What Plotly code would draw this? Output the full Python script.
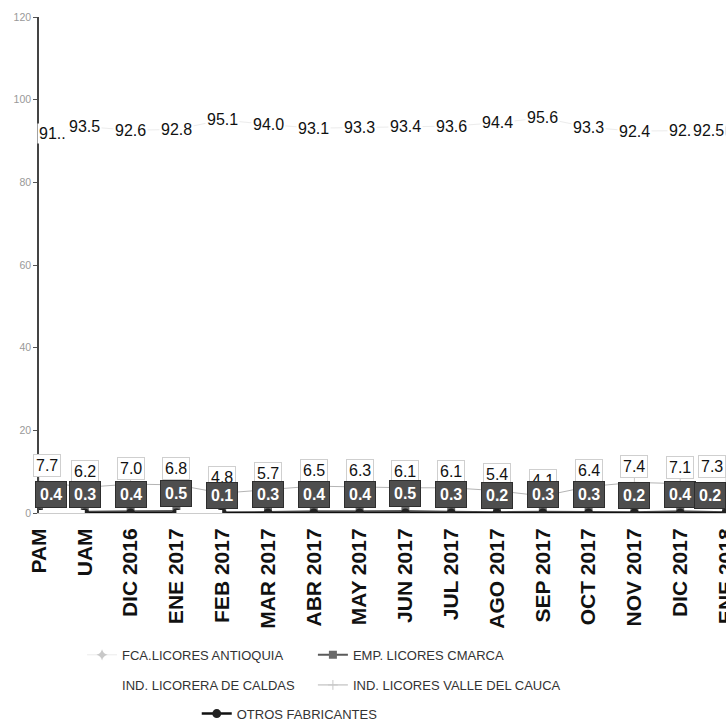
import plotly.graph_objects as go

categories = ["PAM", "UAM", "DIC 2016", "ENE 2017", "FEB 2017", "MAR 2017", "ABR 2017",
              "MAY 2017", "JUN 2017", "JUL 2017", "AGO 2017", "SEP 2017", "OCT 2017",
              "NOV 2017", "DIC 2017", "ENE 2018"]

fca_antioquia = [91.9, 93.5, 92.6, 92.8, 95.1, 94.0, 93.1, 93.3, 93.4, 93.6, 94.4, 95.6, 93.3, 92.4, 92.5, 92.5]
fca_text = ["91..", "93.5", "92.6", "92.8", "95.1", "94.0", "93.1", "93.3", "93.4", "93.6", "94.4", "95.6",
            "93.3", "92.4", "92.", "92.5"]
emp_cmarca = [0.4, 0.3, 0.4, 0.5, 0.1, 0.3, 0.4, 0.4, 0.5, 0.3, 0.2, 0.3, 0.3, 0.2, 0.4, 0.2]
ind_caldas = [0.0, 0.0, None, 0.0, 0.0, None, None, 0.0, None, None, None, None, None, None, None, None]
valle_cauca = [7.7, 6.2, 7.0, 6.8, 4.8, 5.7, 6.5, 6.3, 6.1, 6.1, 5.4, 4.1, 6.4, 7.4, 7.1, 7.3]
otros = [0.0, 0.0, 0.0, 0.0, 0.0, 0.0, 0.0, 0.0, 0.0, 0.0, 0.0, 0.0, 0.0, 0.0, 0.0, 0.0]

ARIAL = "Liberation Sans, Arial"

fig = go.Figure()

fig.add_trace(go.Scatter(x=categories, y=fca_antioquia, mode="lines+markers", name="FCA.LICORES ANTIOQUIA",
                         line=dict(color="#ececec", width=1),
                         marker=dict(symbol="star-diamond", size=8, color="#c8c8c8"),
                         legend="legend", hoverinfo="skip"))
fig.add_trace(go.Scatter(x=categories, y=emp_cmarca, mode="lines+markers", name="EMP. LICORES CMARCA",
                         line=dict(color="#5a5a5a", width=2),
                         marker=dict(symbol="square", size=8, color="#6a6a6a"),
                         legend="legend2", hoverinfo="skip"))
fig.add_trace(go.Scatter(x=categories, y=valle_cauca, mode="lines+markers", name="IND. LICORES VALLE DEL CAUCA",
                         line=dict(color="#b4b4b4", width=1),
                         marker=dict(symbol="cross-thin", size=7, color="#c8c8c8",
                                     line=dict(color="#c8c8c8", width=1)),
                         legend="legend4", hoverinfo="skip"))
fig.add_trace(go.Scatter(x=categories, y=otros, mode="lines+markers", name="OTROS FABRICANTES",
                         line=dict(color="#111111", width=2.5),
                         marker=dict(symbol="circle", size=9, color="#222222"),
                         legend="legend5", hoverinfo="skip"))
fig.add_trace(go.Scatter(x=categories, y=ind_caldas, mode="lines", name="IND. LICORERA DE CALDAS",
                         line=dict(color="#ffffff", width=6), connectgaps=False,
                         legend="legend3", hoverinfo="skip"))

annotations = []
n = len(categories)
for i, (c, v, t) in enumerate(zip(categories, fca_antioquia, fca_text)):
    anchor = "left" if i == 0 else ("right" if i == n - 1 else "center")
    annotations.append(dict(x=c, y=v, xref="x", yref="y", text=t, showarrow=False,
                            xanchor=anchor, yanchor="middle", xshift=(-2 if i == 0 else 0),
                            font=dict(family=ARIAL, size=16, color="#111111"),
                            bgcolor="#ffffff", borderpad=1))
for i, (c, v) in enumerate(zip(categories, valle_cauca)):
    anchor = "left" if i == 0 else ("right" if i == n - 1 else "center")
    annotations.append(dict(x=c, y=v, xref="x", yref="y", text=f"{v:.1f}", showarrow=False,
                            xanchor=anchor, yanchor="middle", yshift=16,
                            xshift=(-6 if i == 0 else 0),
                            font=dict(family=ARIAL, size=16, color="#111111"),
                            bgcolor="#ffffff", bordercolor="#cfcfcf", borderwidth=1, borderpad=2))
for i, (c, v) in enumerate(zip(categories, emp_cmarca)):
    anchor = "left" if i == 0 else ("right" if i == n - 1 else "center")
    annotations.append(dict(x=c, y=v, xref="x", yref="y", text=f"<b>{v:.1f}</b>", showarrow=False,
                            xanchor=anchor, yanchor="middle", yshift=17,
                            xshift=(-4 if i == 0 else 0),
                            font=dict(family=ARIAL, size=16, color="#ffffff"),
                            bgcolor="#4e4e4e", bordercolor="#2e2e2e", borderwidth=1, borderpad=4))

leg_common = dict(orientation="h", xref="container", yref="container", xanchor="left", yanchor="middle",
                  font=dict(family=ARIAL, size=13, color="#333333"), bgcolor="rgba(0,0,0,0)")

fig.update_layout(
    template="none",
    width=726, height=726,
    margin=dict(l=39, r=0, t=17, b=213, autoexpand=False),
    plot_bgcolor="#ffffff", paper_bgcolor="#ffffff",
    showlegend=True,
    legend=dict(x=0.113, y=0.098, **leg_common),
    legend2=dict(x=0.431, y=0.098, **leg_common),
    legend3=dict(x=0.113, y=0.0565, **leg_common),
    legend4=dict(x=0.431, y=0.0565, **leg_common),
    legend5=dict(x=0.271, y=0.017, **leg_common),
    annotations=annotations,
    xaxis=dict(type="category", categoryorder="array", categoryarray=categories,
               range=[0, 15.0], showgrid=False, zeroline=False, automargin=False,
               showline=True, linecolor="#cccccc", linewidth=1,
               ticks="", tickangle=-90, ticklabelstandoff=6,
               tickfont=dict(family=ARIAL, size=21, color="#111111", weight="bold")),
    yaxis=dict(range=[0, 120], tickvals=[0, 20, 40, 60, 80, 100, 120], showgrid=False, zeroline=False,
               automargin=False,
               showline=True, linecolor="#444444", linewidth=1.5,
               ticks="outside", ticklen=4, tickcolor="#555555",
               tickfont=dict(family=ARIAL, size=10.5, color="#999999")),
)

fig.write_html("out.html", config={"displayModeBar": False},
               post_script="document.body.style.margin='0';document.body.style.overflow='hidden';")
